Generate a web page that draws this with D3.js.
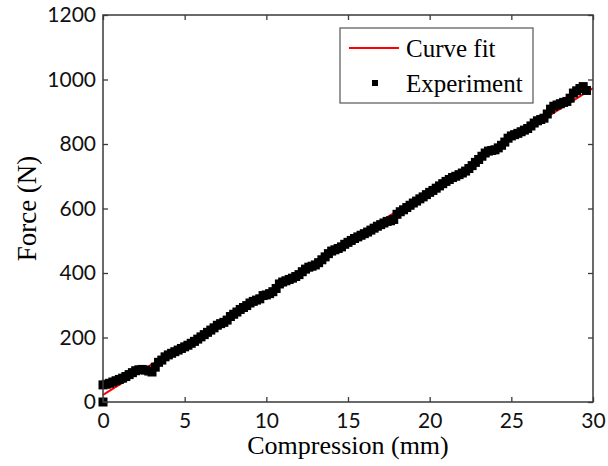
<!DOCTYPE html>
<html>
<head>
<meta charset="utf-8">
<script src="https://cdn.jsdelivr.net/npm/d3@7"></script>
<style>
  body { margin: 0; background: #fff; }
</style>
</head>
<body>
<script>
// experiment readings (mm, N)
var compression = [0, 0, 0.2, 0.4, 0.6, 0.8, 1.0, 1.2, 1.4, 1.6, 1.8, 2.0, 2.2, 2.4, 2.6, 2.8, 3.0, 3.2, 3.4, 3.6, 3.8,
  4.0, 4.2, 4.4, 4.6, 4.8, 5.0, 5.2, 5.4, 5.6, 5.8, 6.0, 6.2, 6.4, 6.6, 6.8, 7.0, 7.2, 7.4, 7.6, 7.8,
  8.0, 8.2, 8.4, 8.6, 8.8, 9.0, 9.2, 9.4, 9.6, 9.8, 10.0, 10.2, 10.4, 10.6, 10.8, 11.0, 11.2, 11.4, 11.6, 11.8,
  12.0, 12.2, 12.4, 12.6, 12.8, 13.0, 13.2, 13.4, 13.6, 13.8, 14.0, 14.2, 14.4, 14.6, 14.8, 15.0, 15.2, 15.4, 15.6, 15.8,
  16.0, 16.2, 16.4, 16.6, 16.8, 17.0, 17.2, 17.4, 17.6, 17.8, 18.0, 18.2, 18.4, 18.6, 18.8, 19.0, 19.2, 19.4, 19.6, 19.8,
  20.0, 20.2, 20.4, 20.6, 20.8, 21.0, 21.2, 21.4, 21.6, 21.8, 22.0, 22.2, 22.4, 22.6, 22.8, 23.0, 23.2, 23.4, 23.6, 23.8,
  24.0, 24.2, 24.4, 24.6, 24.8, 25.0, 25.2, 25.4, 25.6, 25.8, 26.0, 26.2, 26.4, 26.6, 26.8, 27.0, 27.2, 27.4, 27.6, 27.8,
  28.0, 28.2, 28.4, 28.6, 28.8, 29.0, 29.2, 29.4, 29.6];
var force = [0, 53, 55, 58, 62, 66, 70, 74, 79, 85, 91, 97, 100, 101, 99, 96, 93, 108, 123, 130, 140,
  146, 151, 156, 161, 166, 171, 176, 182, 188, 195, 202, 209, 216, 223, 230, 238, 243, 247, 254, 265,
  272, 279, 287, 293, 299, 307, 312, 316, 320, 330, 332, 336, 342, 352, 366, 372, 376, 380, 384, 389,
  395, 404, 412, 418, 421, 425, 432, 441, 450, 460, 468, 472, 476, 481, 489, 495, 501, 507, 512, 517,
  522, 527, 533, 539, 545, 550, 555, 560, 562, 566, 582, 590, 596, 603, 610, 617, 623, 630, 636, 643,
  650, 656, 663, 670, 677, 684, 690, 696, 700, 705, 710, 716, 724, 733, 743, 752, 762, 772, 778, 780,
  782, 788, 796, 806, 818, 825, 829, 833, 838, 843, 848, 856, 865, 872, 876, 880, 893, 908, 917, 921,
  925, 929, 932, 942, 958, 965, 972, 978, 966];

// curve fit
var fitX = [0, 5, 10, 15, 20, 25, 30];
var fitY = [22, 180, 338, 497, 655, 814, 973];

var xTicks = [0, 5, 10, 15, 20, 25, 30];
var yTicks = [0, 200, 400, 600, 800, 1000, 1200];
var legendLabels = ['Curve fit', 'Experiment'];

const w = 608;
const h = 466;
const plotL = 103, plotR = 593, plotT = 15, plotB = 402;

const svg = d3.select('body')
  .append('svg')
  .attr('width', w)
  .attr('height', h)

const xScale = d3.scaleLinear()
  .domain([0, 30])
  .range([plotL, plotR])

const yScale = d3.scaleLinear()
  .domain([0, 1200])
  .range([plotB, plotT])

// fitted line under the points
var fitData = fitX.map(function(x, i){ return {x: x, y: fitY[i]} })
svg.append('path')
  .datum(fitData)
  .attr('fill', 'none')
  .attr('stroke', '#ff0000')
  .attr('stroke-width', 2)
  .attr('d', d3.line().x(function(d){return xScale(d.x)}).y(function(d){return yScale(d.y)}))

var pts = compression.map(function(x, i){ return {x: x, y: force[i]} })
svg.selectAll('.dot')
  .data(pts)
  .enter().append('rect')
  .attr('class', 'dot')
  .attr('x', function(d){return xScale(d.x) - 4.5})
  .attr('y', function(d){return yScale(d.y) - 4.5})
  .attr('width', 9)
  .attr('height', 9)
  .attr('fill', '#000')

// axes, ticks pointing inwards on all sides
const axisColor = '#3a3a3a';
function styleAxis(g){
  g.select('.domain').remove()
  g.selectAll('.tick line').attr('stroke', axisColor).attr('stroke-width', 1.3)
  g.selectAll('.tick text')
    .attr('fill', '#111')
    .style('font-family', 'Lato, "Open Sans", sans-serif')
    .style('font-size', '21px')
}

svg.append('g')
  .attr('transform', 'translate(0,' + plotB + ')')
  .call(d3.axisBottom(xScale).tickValues(xTicks).tickSize(-5).tickPadding(11).tickFormat(d3.format('d')))
  .call(styleAxis)

svg.append('g')
  .attr('transform', 'translate(0,' + plotT + ')')
  .call(d3.axisTop(xScale).tickValues(xTicks).tickSize(-5).tickFormat(''))
  .call(styleAxis)

svg.append('g')
  .attr('transform', 'translate(' + plotL + ',0)')
  .call(d3.axisLeft(yScale).tickValues(yTicks).tickSize(-5).tickPadding(7).tickFormat(d3.format('d')))
  .call(styleAxis)

svg.append('g')
  .attr('transform', 'translate(' + plotR + ',0)')
  .call(d3.axisRight(yScale).tickValues(yTicks).tickSize(-5).tickFormat(''))
  .call(styleAxis)

svg.append('rect')
  .attr('x', plotL)
  .attr('y', plotT)
  .attr('width', plotR - plotL)
  .attr('height', plotB - plotT)
  .attr('fill', 'none')
  .attr('stroke', axisColor)
  .attr('stroke-width', 1.5)

// axis labels
svg.append('text')
  .text('Compression (mm)')
  .attr('x', (plotL + plotR) / 2)
  .attr('y', 454)
  .attr('text-anchor', 'middle')
  .style('font-family', '"Liberation Serif", "Times New Roman", serif')
  .style('font-size', '26px')

svg.append('text')
  .text('Force (N)')
  .attr('transform', 'translate(36,' + ((plotT + plotB) / 2) + ') rotate(-90)')
  .attr('text-anchor', 'middle')
  .style('font-family', '"Liberation Serif", "Times New Roman", serif')
  .style('font-size', '27px')

// legend
var legend = svg.append('g')
legend.append('rect')
  .attr('x', 340)
  .attr('y', 28)
  .attr('width', 193)
  .attr('height', 75)
  .attr('fill', '#fff')
  .attr('stroke', '#555')
  .attr('stroke-width', 1.2)

legend.append('line')
  .attr('x1', 349).attr('x2', 399)
  .attr('y1', 48).attr('y2', 48)
  .attr('stroke', '#ff0000')
  .attr('stroke-width', 2)

legend.append('rect')
  .attr('x', 372).attr('y', 80)
  .attr('width', 6).attr('height', 6)
  .attr('fill', '#000')

legend.selectAll('.ltext')
  .data(legendLabels)
  .enter().append('text')
  .attr('class', 'ltext')
  .attr('x', 406)
  .attr('y', function(d, i){return 57 + i * 35})
  .text(function(d){return d})
  .style('font-family', '"Liberation Serif", "Times New Roman", serif')
  .style('font-size', '25px')
</script>
</body>
</html>
